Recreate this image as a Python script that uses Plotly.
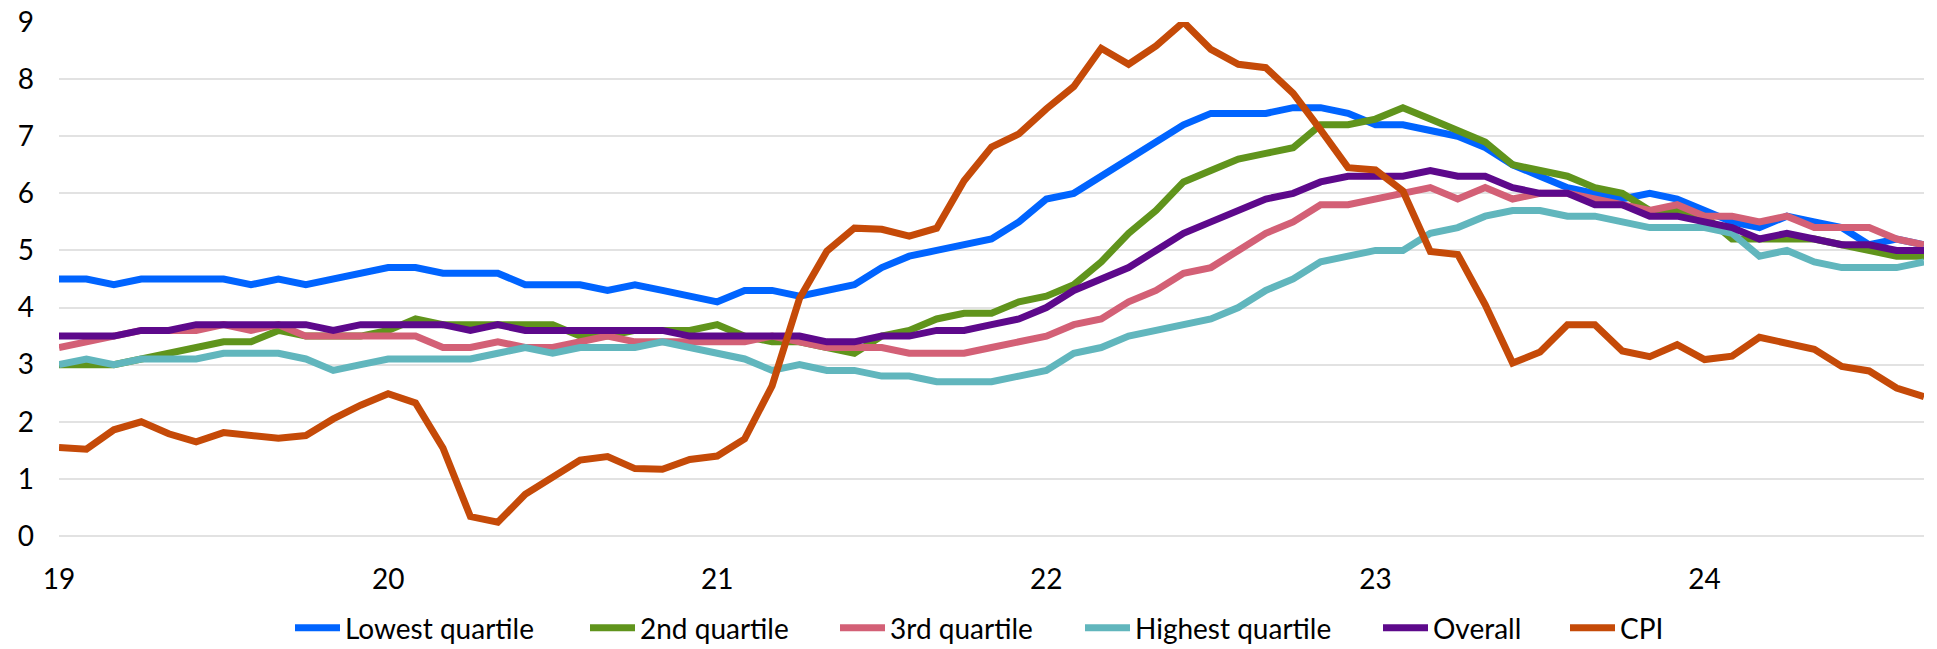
import plotly.graph_objects as go

# Monthly observations, Jan 2019 .. Sep 2024 (69 months)
YEAR_LABELS = ["19", "20", "21", "22", "23", "24"]

LOWEST = [
    4.5, 4.5, 4.4, 4.5, 4.5, 4.5, 4.5, 4.4, 4.5, 4.4, 4.5, 4.6,
    4.7, 4.7, 4.6, 4.6, 4.6, 4.4, 4.4, 4.4, 4.3, 4.4, 4.3, 4.2,
    4.1, 4.3, 4.3, 4.2, 4.3, 4.4, 4.7, 4.9, 5.0, 5.1, 5.2, 5.5,
    5.9, 6.0, 6.3, 6.6, 6.9, 7.2, 7.4, 7.4, 7.4, 7.5, 7.5, 7.4,
    7.2, 7.2, 7.1, 7.0, 6.8, 6.5, 6.3, 6.1, 6.0, 5.9, 6.0, 5.9,
    5.7, 5.5, 5.4, 5.6, 5.5, 5.4, 5.1, 5.2, 5.1,
]
SECOND = [
    3.0, 3.0, 3.0, 3.1, 3.2, 3.3, 3.4, 3.4, 3.6, 3.5, 3.5, 3.5,
    3.6, 3.8, 3.7, 3.7, 3.7, 3.7, 3.7, 3.5, 3.5, 3.6, 3.6, 3.6,
    3.7, 3.5, 3.4, 3.4, 3.3, 3.2, 3.5, 3.6, 3.8, 3.9, 3.9, 4.1,
    4.2, 4.4, 4.8, 5.3, 5.7, 6.2, 6.4, 6.6, 6.7, 6.8, 7.2, 7.2,
    7.3, 7.5, 7.3, 7.1, 6.9, 6.5, 6.4, 6.3, 6.1, 6.0, 5.7, 5.7,
    5.6, 5.2, 5.2, 5.2, 5.2, 5.1, 5.0, 4.9, 4.9,
]
THIRD = [
    3.3, 3.4, 3.5, 3.6, 3.6, 3.6, 3.7, 3.6, 3.7, 3.5, 3.5, 3.5,
    3.5, 3.5, 3.3, 3.3, 3.4, 3.3, 3.3, 3.4, 3.5, 3.4, 3.4, 3.4,
    3.4, 3.4, 3.5, 3.4, 3.3, 3.3, 3.3, 3.2, 3.2, 3.2, 3.3, 3.4,
    3.5, 3.7, 3.8, 4.1, 4.3, 4.6, 4.7, 5.0, 5.3, 5.5, 5.8, 5.8,
    5.9, 6.0, 6.1, 5.9, 6.1, 5.9, 6.0, 6.0, 5.9, 5.8, 5.7, 5.8,
    5.6, 5.6, 5.5, 5.6, 5.4, 5.4, 5.4, 5.2, 5.1,
]
HIGHEST = [
    3.0, 3.1, 3.0, 3.1, 3.1, 3.1, 3.2, 3.2, 3.2, 3.1, 2.9, 3.0,
    3.1, 3.1, 3.1, 3.1, 3.2, 3.3, 3.2, 3.3, 3.3, 3.3, 3.4, 3.3,
    3.2, 3.1, 2.9, 3.0, 2.9, 2.9, 2.8, 2.8, 2.7, 2.7, 2.7, 2.8,
    2.9, 3.2, 3.3, 3.5, 3.6, 3.7, 3.8, 4.0, 4.3, 4.5, 4.8, 4.9,
    5.0, 5.0, 5.3, 5.4, 5.6, 5.7, 5.7, 5.6, 5.6, 5.5, 5.4, 5.4,
    5.4, 5.3, 4.9, 5.0, 4.8, 4.7, 4.7, 4.7, 4.8,
]
OVERALL = [
    3.5, 3.5, 3.5, 3.6, 3.6, 3.7, 3.7, 3.7, 3.7, 3.7, 3.6, 3.7,
    3.7, 3.7, 3.7, 3.6, 3.7, 3.6, 3.6, 3.6, 3.6, 3.6, 3.6, 3.5,
    3.5, 3.5, 3.5, 3.5, 3.4, 3.4, 3.5, 3.5, 3.6, 3.6, 3.7, 3.8,
    4.0, 4.3, 4.5, 4.7, 5.0, 5.3, 5.5, 5.7, 5.9, 6.0, 6.2, 6.3,
    6.3, 6.3, 6.4, 6.3, 6.3, 6.1, 6.0, 6.0, 5.8, 5.8, 5.6, 5.6,
    5.5, 5.4, 5.2, 5.3, 5.2, 5.1, 5.1, 5.0, 5.0,
]
CPI = [
    1.55, 1.52, 1.86, 2.00, 1.79, 1.65, 1.81, 1.75, 1.71, 1.76, 2.05, 2.29,
    2.49, 2.33, 1.54, 0.34, 0.24, 0.73, 1.03, 1.33, 1.39, 1.18, 1.17, 1.34,
    1.40, 1.70, 2.63, 4.16, 4.99, 5.39, 5.37, 5.25, 5.39, 6.22, 6.81, 7.04,
    7.48, 7.87, 8.54, 8.26, 8.58, 9.00, 8.52, 8.26, 8.20, 7.75, 7.11, 6.45,
    6.41, 6.04, 4.98, 4.93, 4.05, 3.03, 3.22, 3.70, 3.70, 3.24, 3.14, 3.35,
    3.09, 3.15, 3.48, 3.36, 3.27, 2.97, 2.89, 2.59, 2.44,
]

SERIES = [
    ("Lowest quartile", LOWEST, "#0064FF"),
    ("2nd quartile", SECOND, "#60941C"),
    ("3rd quartile", THIRD, "#D36076"),
    ("Highest quartile", HIGHEST, "#61B6BD"),
    ("Overall", OVERALL, "#5D098B"),
    ("CPI", CPI, "#C54A08"),
]

# left edge of each legend entry, in page pixels
LEGEND_LEFT = [300, 595, 845, 1090, 1388, 1575]

FONT = "Lato, Carlito, Calibri, sans-serif"
FIG_W, FIG_H = 1937, 649

months = list(range(len(CPI)))

fig = go.Figure()
legends = {}
for k, (name, values, color) in enumerate(SERIES):
    key = "legend" if k == 0 else f"legend{k + 1}"
    fig.add_trace(go.Scatter(
        x=months,
        y=values,
        mode="lines",
        name=name,
        legend=key,
        line=dict(color=color, width=7),
    ))
    legends[key] = dict(
        orientation="h",
        xref="container",
        yref="container",
        x=(LEGEND_LEFT[k] - 10) / FIG_W,
        xanchor="left",
        y=1 - 628 / FIG_H,
        yanchor="middle",
        font=dict(family=FONT, size=28, color="#000000"),
        itemwidth=45,
        bgcolor="rgba(0,0,0,0)",
    )

fig.update_layout(
    width=FIG_W,
    height=FIG_H,
    paper_bgcolor="white",
    plot_bgcolor="white",
    margin=dict(l=59, r=13, t=22, b=113, autoexpand=False),
    font=dict(family=FONT, size=28, color="#000000"),
    showlegend=True,
    xaxis=dict(
        range=[0, len(CPI) - 1],
        tickvals=[12 * k for k in range(len(YEAR_LABELS))],
        ticktext=YEAR_LABELS,
        showgrid=False,
        zeroline=False,
        showline=False,
        ticks="",
        ticklabelstandoff=24,
        ticklabeloverflow="allow",
        tickfont=dict(family=FONT, size=28, color="#000000"),
    ),
    yaxis=dict(
        range=[0, 9],
        dtick=1,
        showgrid=True,
        gridcolor="#E2E2E2",
        gridwidth=2,
        zeroline=True,
        zerolinecolor="#E2E2E2",
        zerolinewidth=2,
        showline=False,
        ticks="",
        ticklabelstandoff=24,
        ticklabeloverflow="allow",
        tickfont=dict(family=FONT, size=28, color="#000000"),
    ),
    **legends,
)

# drop the browser's default 8px body margin so the figure fills the window
fig.write_html(
    "out.html",
    config={"displayModeBar": False},
    post_script="document.body.style.margin = '0';",
)
